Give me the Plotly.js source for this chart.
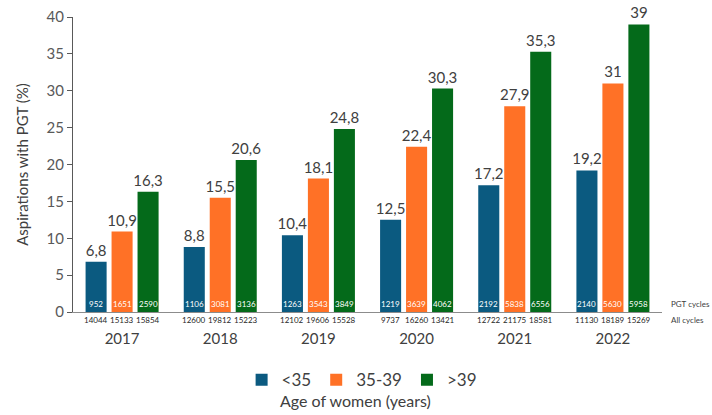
<!DOCTYPE html>
<html><head><meta charset="utf-8">
<script src="https://cdn.plot.ly/plotly-3.0.1.min.js"></script>
<style>html,body{margin:0;padding:0;background:#fff}#chart{width:712px;height:415px}</style>
</head><body><div id="chart"></div>
<script>
const years = ['2017','2018','2019','2020','2021','2022'];
const seriesNames = ['<35','35-39','>39'];
const under35 = [6.8, 8.8, 10.4, 12.5, 17.2, 19.2];
const age35to39 = [10.9, 15.5, 18.1, 22.4, 27.9, 31];
const over39 = [16.3, 20.6, 24.8, 30.3, 35.3, 39];
const pgtUnder35 = [952, 1106, 1263, 1219, 2192, 2140];
const pgt35to39 = [1651, 3081, 3543, 3639, 5838, 5630];
const pgtOver39 = [2590, 3136, 3849, 4062, 6556, 5958];
const allUnder35 = [14044, 12600, 12102, 9737, 12722, 11130];
const all35to39 = [15133, 19812, 19606, 16260, 21175, 18189];
const allOver39 = [15854, 15223, 15528, 13421, 18581, 15269];
const colors = ['#0B5A80', '#FF7126', '#046A1A'];

const values = [under35, age35to39, over39];
const pgt = [pgtUnder35, pgt35to39, pgtOver39];
const allc = [allUnder35, all35to39, allOver39];
const bargap = 0.206;
const slot = (1 - bargap) / 3;
const FONT = 'Lato, "Open Sans", sans-serif';

const traces = values.map((v, k) => ({
  type: 'bar', name: seriesNames[k], x: years, y: v,
  marker: {color: colors[k]},
  text: v.map(d => String(d).replace('.', ',')),
  textposition: 'outside', cliponaxis: false, constraintext: 'none',
  textfont: {size: 15, color: '#404040', family: FONT},
  hoverinfo: 'skip'
}));

const annotations = [];
for (let k = 0; k < 3; k++) {
  for (let i = 0; i < years.length; i++) {
    const xp = i + (k - 1) * slot;
    annotations.push({x: xp, y: 0, xref: 'x', yref: 'y', yanchor: 'bottom', yshift: 1,
      text: String(pgt[k][i]), showarrow: false, font: {size: 8, color: '#ffffff', family: FONT}});
    annotations.push({x: xp, y: 0, xref: 'x', yref: 'y', yanchor: 'top', yshift: -1,
      text: String(allc[k][i]), showarrow: false, font: {size: 8, color: '#262626', family: FONT}});
  }
}
annotations.push({x: 1.012, y: 0, xref: 'paper', yref: 'y', xanchor: 'left', yanchor: 'bottom', yshift: 1,
  text: 'PGT cycles', showarrow: false, font: {size: 8, color: '#404040', family: FONT}});
annotations.push({x: 1.012, y: 0, xref: 'paper', yref: 'y', xanchor: 'left', yanchor: 'top', yshift: -1,
  text: 'All cycles', showarrow: false, font: {size: 8, color: '#404040', family: FONT}});
annotations.push({x: 0.48, y: 0, xref: 'paper', yref: 'y', xanchor: 'center', yanchor: 'middle', yshift: -88,
  text: 'Age of women (years)', showarrow: false, font: {size: 16, color: '#404040', family: FONT}});

const layout = {
  width: 712, height: 415,
  margin: {l: 73, r: 50, t: 17, b: 103, autoexpand: false},
  paper_bgcolor: '#fff', plot_bgcolor: '#fff',
  barmode: 'group', bargap: bargap, bargroupgap: 0.19,
  font: {family: FONT, color: '#595959'},
  showlegend: true,
  legend: {orientation: 'h', x: 0.49, xanchor: 'center', y: -0.17, yanchor: 'top',
    font: {size: 17, color: '#404040', family: FONT}, itemwidth: 30, traceorder: 'normal'},
  xaxis: {type: 'category', showline: true, linecolor: '#8c8c8c', linewidth: 1,
    ticks: '', showgrid: false, ticklabelstandoff: 13,
    tickfont: {size: 15, color: '#404040', family: FONT}},
  yaxis: {range: [0, 40], dtick: 5, showgrid: false, zeroline: false,
    showline: true, linecolor: '#595959', linewidth: 1, ticks: 'outside', ticklen: 5,
    tickcolor: '#595959', tickfont: {size: 15, color: '#595959', family: FONT},
    title: {text: 'Aspirations with PGT (%)', font: {size: 15, color: '#404040', family: FONT}, standoff: 14}},
  annotations: annotations
};
Plotly.newPlot('chart', traces, layout, {displayModeBar: false, staticPlot: true});
</script></body></html>
